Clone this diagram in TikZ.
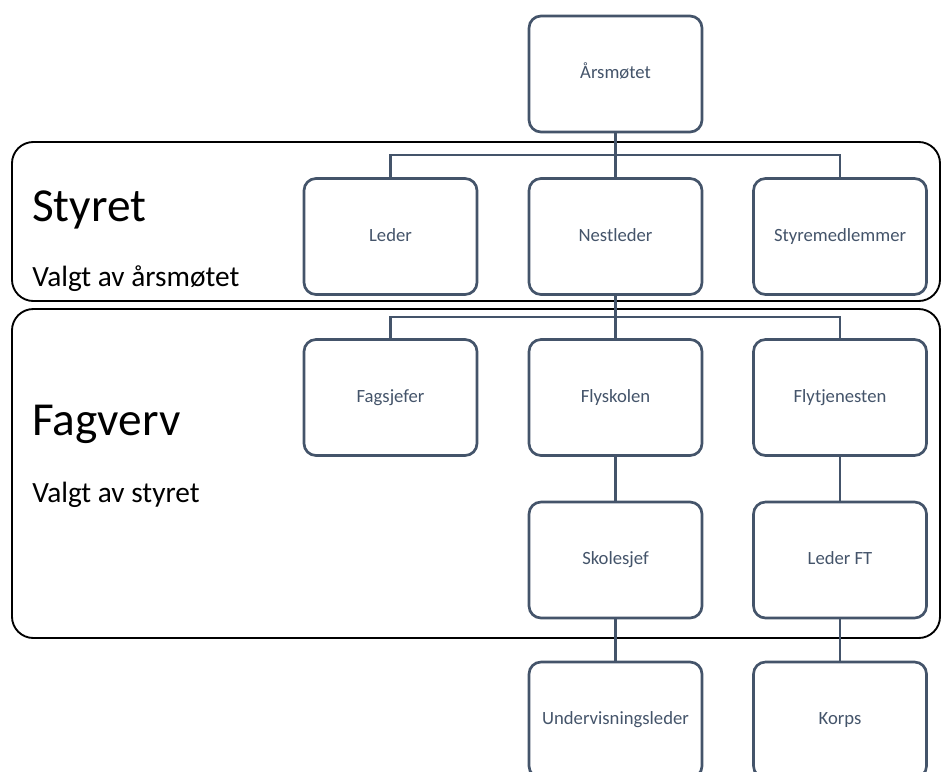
\documentclass[tikz,border=0pt]{standalone}
\usepackage{fontspec}
\setmainfont{Carlito}
\definecolor{slate}{HTML}{44546A}
\begin{document}
\begin{tikzpicture}[x=0.75pt,y=-0.75pt,
  orgbox/.style={draw=slate,line width=2pt,rounded corners=9pt,fill=white,minimum width=173*0.75pt,minimum height=116*0.75pt,text=slate,font=\fontsize{14}{16}\selectfont,inner sep=0pt,text height=9.3pt,text depth=2.5pt},
  grp/.style={draw=black,line width=1.4pt,rounded corners=16pt},
  link/.style={draw=slate,line width=2pt},
  bigt/.style={anchor=base west,inner sep=0pt,font=\fontsize{35.5}{40}\selectfont},
  subt/.style={anchor=base west,inner sep=0pt,font=\fontsize{22}{26}\selectfont}]
\useasboundingbox (0,0) rectangle (941,771);
\clip (0,0) rectangle (941,771);
% groups
\draw[grp] (12,142) rectangle (940,301);
\draw[grp] (12,309) rectangle (940,638);
\node[bigt] (styret) at (32,221) {Styret};
\node[subt] (valgt1) at (32,286) {Valgt av årsmøtet};
\node[bigt] (fagverv) at (32,435) {Fagverv};
\node[subt] (valgt2) at (32,502) {Valgt av styret};
% nodes
\node[orgbox] (aars) at (615.5,74) {Årsmøtet};
\node[orgbox] (leder) at (390.5,236.5) {Leder};
\node[orgbox] (nest) at (615.5,236.5) {Nestleder};
\node[orgbox] (styre) at (840,236.5) {Styremedlemmer};
\node[orgbox] (fag) at (390.5,397.5) {Fagsjefer};
\node[orgbox] (fly) at (615.5,397.5) {Flyskolen};
\node[orgbox] (flyt) at (840,397.5) {Flytjenesten};
\node[orgbox] (skole) at (615.5,560) {Skolesjef};
\node[orgbox] (lft) at (840,560) {Leder FT};
\node[orgbox] (underv) at (615.5,720) {Undervisningsleder};
\node[orgbox] (korps) at (840,720) {Korps};
% connectors
\coordinate (j1) at (615.5,155);
\coordinate (j2) at (615.5,317);
\draw[link] (aars.south) -- (j1);
\draw[link] (leder.north) |- (j1) -| (styre.north);
\draw[link] (j1) -- (nest.north);
\draw[link] (nest.south) -- (j2);
\draw[link] (fag.north) |- (j2) -| (flyt.north);
\draw[link] (j2) -- (fly.north);
\draw[link] (fly.south) -- (skole.north);
\draw[link] (flyt.south) -- (lft.north);
\draw[link] (skole.south) -- (underv.north);
\draw[link] (lft.south) -- (korps.north);
\end{tikzpicture}
\end{document}
